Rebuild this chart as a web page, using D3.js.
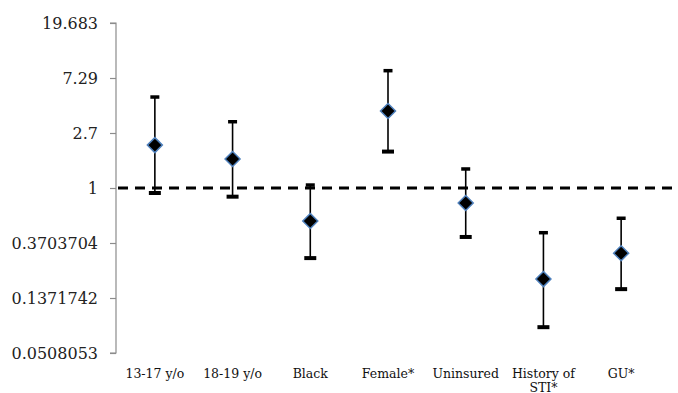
<!DOCTYPE html>
<html><head><meta charset="utf-8">
<script src="https://cdn.jsdelivr.net/npm/d3@7"></script>
<style>body{margin:0;background:#fff}svg{display:block}</style>
</head><body>
<svg id="c" width="678" height="393"></svg>
<script>
const categories = [["13-17 y/o"],["18-19 y/o"],["Black"],["Female*"],["Uninsured"],["History of","STI*"],["GU*"]];
const estimate = [2.17, 1.69, 0.551, 4.02, 0.763, 0.193, 0.308];
const upper    = [5.17, 3.31, 1.055, 8.32, 1.41, 0.446, 0.579];
const lower    = [0.914, 0.855, 0.282, 1.93, 0.413, 0.081, 0.161];
const tickValues = [0.0508053, 0.1371742, 0.3703704, 1, 2.7, 7.29, 19.683];
const tickLabels = ["0.0508053","0.1371742","0.3703704","1","2.7","7.29","19.683"];
const refValue = 1;

(function(){
const svg = d3.select("#c");
const mL = 116, mR = 660, mT = 23, mB = 353;
const x = d3.scaleBand().domain(d3.range(categories.length)).range([mL, mR]);
const y = d3.scaleLog().base(2.7).domain([tickValues[0], tickValues[tickValues.length-1]]).range([mB, mT]);

const yAxis = d3.axisLeft(y).tickValues(tickValues).tickFormat((d,i)=>tickLabels[i]).tickSize(6).tickPadding(12);
const ga = svg.append("g").attr("transform", `translate(${mL},0)`).call(yAxis);
ga.select(".domain").attr("stroke","#8c8c8c").attr("stroke-width",1.2).attr("d",`M-6,${mT}H0V${mB}H-6`);
ga.selectAll(".tick line").attr("stroke","#8c8c8c").attr("stroke-width",1.2);
ga.selectAll(".tick text").attr("font-family","DejaVu Serif").attr("font-size",16).attr("fill","#222");

svg.append("line").attr("x1", mL+2).attr("x2", 678).attr("y1", y(refValue)).attr("y2", y(refValue))
  .attr("stroke","#000").attr("stroke-width",3).attr("stroke-dasharray","10,7");

const xl = svg.append("g");
categories.forEach((lines,i)=>{
  const t = xl.append("text").attr("x", x(i)+x.bandwidth()/2).attr("y", 378)
    .attr("text-anchor","middle").attr("font-family","DejaVu Serif").attr("font-size",12.5).attr("fill","#111");
  lines.forEach((l,j)=>t.append("tspan").attr("x", x(i)+x.bandwidth()/2).attr("dy", j?13.5:0).text(l));
});

const g = svg.append("g");
categories.forEach((c,i)=>{
  const cx = x(i)+x.bandwidth()/2;
  g.append("line").attr("x1",cx).attr("x2",cx).attr("y1",y(upper[i])).attr("y2",y(lower[i])).attr("stroke","#000").attr("stroke-width",1.6);
  g.append("line").attr("x1",cx-4.5).attr("x2",cx+4.5).attr("y1",y(upper[i])).attr("y2",y(upper[i])).attr("stroke","#000").attr("stroke-width",3.5);
  g.append("line").attr("x1",cx-6).attr("x2",cx+6).attr("y1",y(lower[i])).attr("y2",y(lower[i])).attr("stroke","#000").attr("stroke-width",4);
  const cy = y(estimate[i]), r = 7.5;
  g.append("path").attr("d",`M${cx},${cy-r}L${cx+r},${cy}L${cx},${cy+r}L${cx-r},${cy}Z`)
    .attr("fill","#000").attr("stroke","#4f81bd").attr("stroke-width",1.5);
});
})();
</script>
</body></html>
